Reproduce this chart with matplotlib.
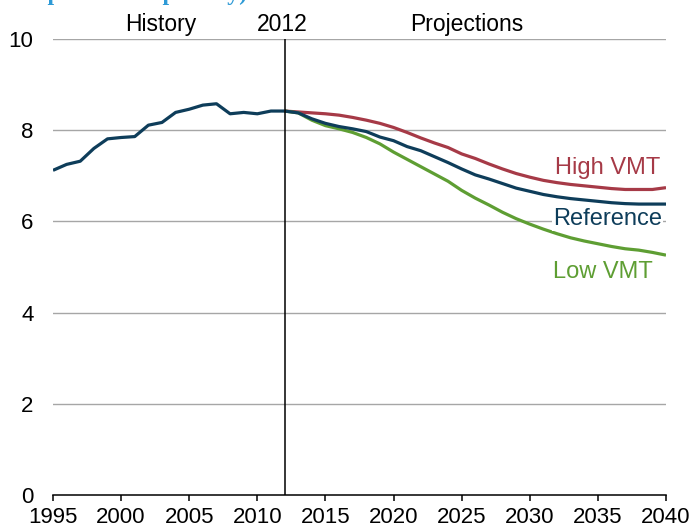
import matplotlib
matplotlib.use("Agg")
import matplotlib.pyplot as plt
from matplotlib import font_manager

years_hist = list(range(1995, 2013))
hist = [7.12, 7.25, 7.32, 7.60, 7.81, 7.84, 7.86, 8.11, 8.17, 8.39, 8.46, 8.55, 8.58, 8.36, 8.39, 8.36, 8.42, 8.42]

years_proj = list(range(2012, 2041))
reference = [8.42, 8.38, 8.25, 8.15, 8.08, 8.03, 7.97, 7.85, 7.77, 7.64, 7.55, 7.42, 7.29, 7.15, 7.02,
             6.93, 6.83, 6.73, 6.66, 6.59, 6.54, 6.50, 6.47, 6.44, 6.41, 6.39, 6.38, 6.38, 6.38]
high_vmt = [8.42, 8.40, 8.38, 8.36, 8.33, 8.28, 8.22, 8.15, 8.06, 7.95, 7.83, 7.72, 7.62, 7.48, 7.38,
            7.26, 7.15, 7.05, 6.97, 6.90, 6.85, 6.81, 6.78, 6.75, 6.72, 6.70, 6.70, 6.70, 6.74]
low_vmt = [8.42, 8.38, 8.22, 8.10, 8.03, 7.95, 7.84, 7.70, 7.52, 7.36, 7.20, 7.04, 6.88, 6.68, 6.51,
           6.36, 6.20, 6.06, 5.94, 5.83, 5.73, 5.64, 5.57, 5.51, 5.45, 5.40, 5.37, 5.32, 5.26]

xticks = list(range(1995, 2041, 5))
yticks = [0, 2, 4, 6, 8, 10]

C_REF = "#0E3D5A"
C_HIGH = "#A63A47"
C_LOW = "#5E9E33"

def has_font(name):
    try:
        font_manager.findfont(name, fallback_to_default=False)
        return True
    except Exception:
        return False

base = "Liberation Sans" if has_font("Liberation Sans") else "DejaVu Sans"
plt.rcParams['font.family'] = [base, 'DejaVu Sans']

W, H = 695, 531
fig = plt.figure(figsize=(W / 100, H / 100), dpi=100)
ax = fig.add_axes([53 / W, 1 - 495 / H, (666 - 53) / W, (495 - 39) / H])

ax.set_xlim(1995, 2040)
ax.set_ylim(0, 10)
for y in yticks[1:]:
    ax.axhline(y, color="#A6A6A6", lw=1.0, zorder=1)

LW = 2.3
ax.plot(years_hist, hist, color=C_REF, lw=LW, zorder=4, solid_capstyle='butt')
ax.plot(years_proj, high_vmt, color=C_HIGH, lw=LW, zorder=3, solid_capstyle='butt')
ax.plot(years_proj, low_vmt, color=C_LOW, lw=LW, zorder=3, solid_capstyle='butt')
ax.plot(years_proj, reference, color=C_REF, lw=LW, zorder=4, solid_capstyle='butt')

ax.axvline(2012, color="black", lw=1.1, zorder=5)

for s in ["top", "right", "left"]:
    ax.spines[s].set_visible(False)
ax.spines["bottom"].set_color("black")
ax.spines["bottom"].set_linewidth(1.1)

ax.set_xticks(xticks)
ax.set_yticks(yticks)
ax.tick_params(axis="y", length=0, pad=14, labelsize=16)
ax.tick_params(axis="x", length=4.5, width=1.1, direction="out", pad=4, labelsize=16)

ax.text(2002.9, 10.17, "History", fontsize=16.5, ha="center", va="baseline")
ax.text(2011.8, 10.17, "2012", fontsize=16.5, ha="center", va="baseline")
ax.text(2025.4, 10.17, "Projections", fontsize=16.5, ha="center", va="baseline")

ax.text(2035.7, 7.17, "High VMT", color=C_HIGH, fontsize=17, ha="center", va="center", zorder=6)
ax.text(2035.7, 6.05, "Reference", color=C_REF, fontsize=17, ha="center", va="center", zorder=6,
        bbox=dict(facecolor="white", edgecolor="none", pad=0.5))
ax.text(2035.4, 4.89, "Low VMT", color=C_LOW, fontsize=17, ha="center", va="center", zorder=6)

fig.text(247 / W, 1.0, "es per vehicle per day)", color="#2E9AD6", fontsize=17,
         fontweight="bold", family=["Liberation Serif", "DejaVu Serif"], ha="right", va="baseline")

fig.savefig("out.png", dpi=100)
